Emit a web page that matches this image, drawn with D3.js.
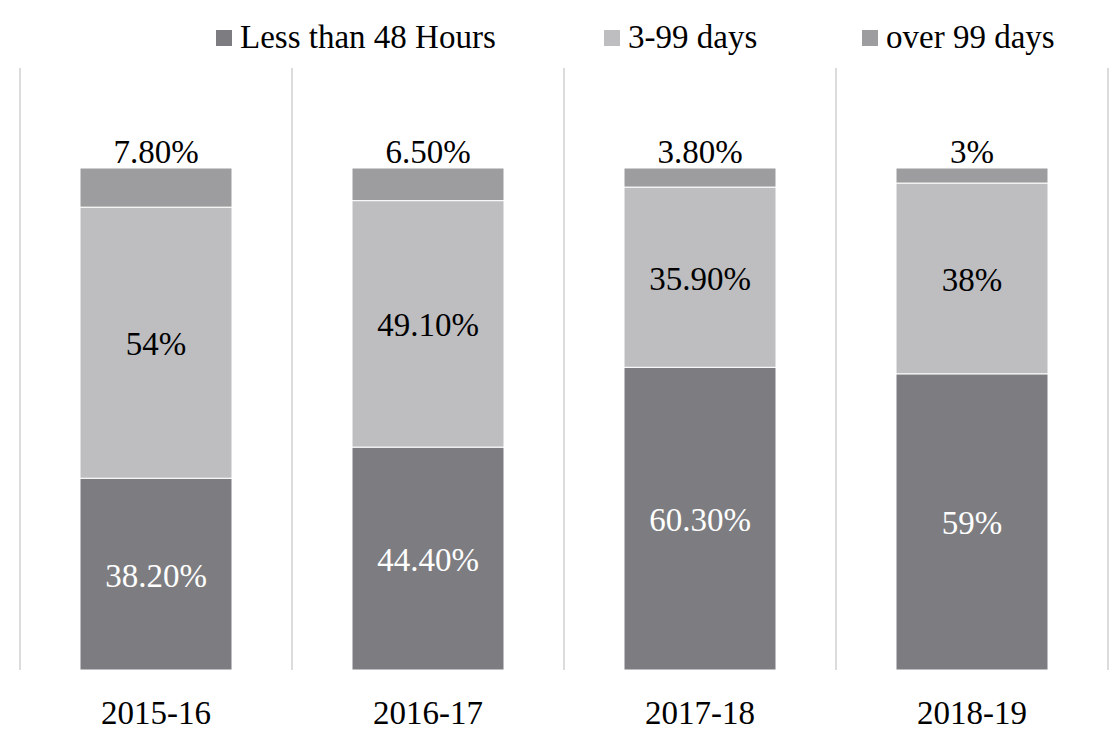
<!DOCTYPE html>
<html>
<head>
<meta charset="utf-8">
<script src="https://cdn.jsdelivr.net/npm/d3@7.9.0/dist/d3.min.js"></script>
<style>
  body { margin: 0; background: #fff; }
  svg { display: block; }
  svg text { font-family: "Liberation Serif", "DejaVu Serif", serif; }
</style>
</head>
<body>
<svg id="chart" width="1117" height="743"></svg>
<script>
// Data
let years = ['2015-16', '2016-17', '2017-18', '2018-19'];
let seriesNames = ['Less than 48 Hours', '3-99 days', 'over 99 days'];
let under48 = [38.2, 44.4, 60.3, 59];
let days3to99 = [54, 49.1, 35.9, 38];
let over99 = [7.8, 6.5, 3.8, 3];
let labelsUnder48 = ['38.20%', '44.40%', '60.30%', '59%'];
let labels3to99 = ['54%', '49.10%', '35.90%', '38%'];
let labelsOver99 = ['7.80%', '6.50%', '3.80%', '3%'];

let colors = ['#7d7d81', '#bebec1', '#9d9d9f'];
let textColors = ['#fff', '#000', '#000'];

let svg = d3.select('#chart');

let x = d3.scaleBand().domain(years).range([20, 1108]).paddingInner(0).paddingOuter(0);
let y = d3.scaleLinear().domain([0, 100]).range([670, 168]);
let barW = 152;

// table for the stack
let table = years.map((yr, i) => ({
    year: yr,
    [seriesNames[0]]: under48[i],
    [seriesNames[1]]: days3to99[i],
    [seriesNames[2]]: over99[i]
}));
let labelSets = [labelsUnder48, labels3to99, labelsOver99];

let stacked = d3.stack().keys(seriesNames)(table);

// category separators
let seps = d3.range(years.length + 1).map(i => 20 + i * x.bandwidth());
svg.selectAll('line.sep')
    .data(seps)
    .enter()
    .append('line')
    .attr('class', 'sep')
    .attr('x1', d => d).attr('x2', d => d)
    .attr('y1', 68).attr('y2', 670)
    .attr('stroke', '#dcdcdc')
    .attr('stroke-width', 2);

// bars
let groups = svg.selectAll('g.series')
    .data(stacked)
    .enter()
    .append('g')
    .attr('class', 'series')
    .attr('fill', (d, i) => colors[i]);

groups.selectAll('rect')
    .data(d => d)
    .enter()
    .append('rect')
    .attr('x', d => x(d.data.year) + (x.bandwidth() - barW) / 2)
    .attr('width', barW)
    .attr('y', d => y(d[1]))
    .attr('height', d => y(d[0]) - y(d[1]))
    .attr('stroke', '#fff')
    .attr('stroke-width', 1);

// data labels
stacked.forEach((s, si) => {
    svg.append('g').selectAll('text')
        .data(s)
        .enter()
        .append('text')
        .attr('x', d => x(d.data.year) + x.bandwidth() / 2)
        .attr('y', d => si === 2 ? y(d[1]) - 17 : (y(d[0]) + y(d[1])) / 2 + 1)
        .attr('dy', '0.35em')
        .attr('text-anchor', 'middle')
        .attr('font-size', 33)
        .attr('fill', textColors[si])
        .text((d, i) => labelSets[si][i]);
});

// category labels
svg.append('g').selectAll('text')
    .data(years)
    .enter()
    .append('text')
    .attr('x', d => x(d) + x.bandwidth() / 2)
    .attr('y', 712)
    .attr('dy', '0.35em')
    .attr('text-anchor', 'middle')
    .attr('font-size', 33)
    .attr('fill', '#000')
    .text(d => d);

// legend
let legendX = [216, 604, 862];
let legend = svg.append('g').selectAll('g')
    .data(seriesNames)
    .enter()
    .append('g')
    .attr('transform', (d, i) => `translate(${legendX[i]},30)`);
legend.append('rect')
    .attr('width', 16).attr('height', 16)
    .attr('fill', (d, i) => colors[i]);
legend.append('text')
    .attr('x', 24)
    .attr('y', 6)
    .attr('dy', '0.35em')
    .attr('font-size', 33)
    .attr('fill', '#000')
    .text(d => d);
</script>
</body>
</html>
